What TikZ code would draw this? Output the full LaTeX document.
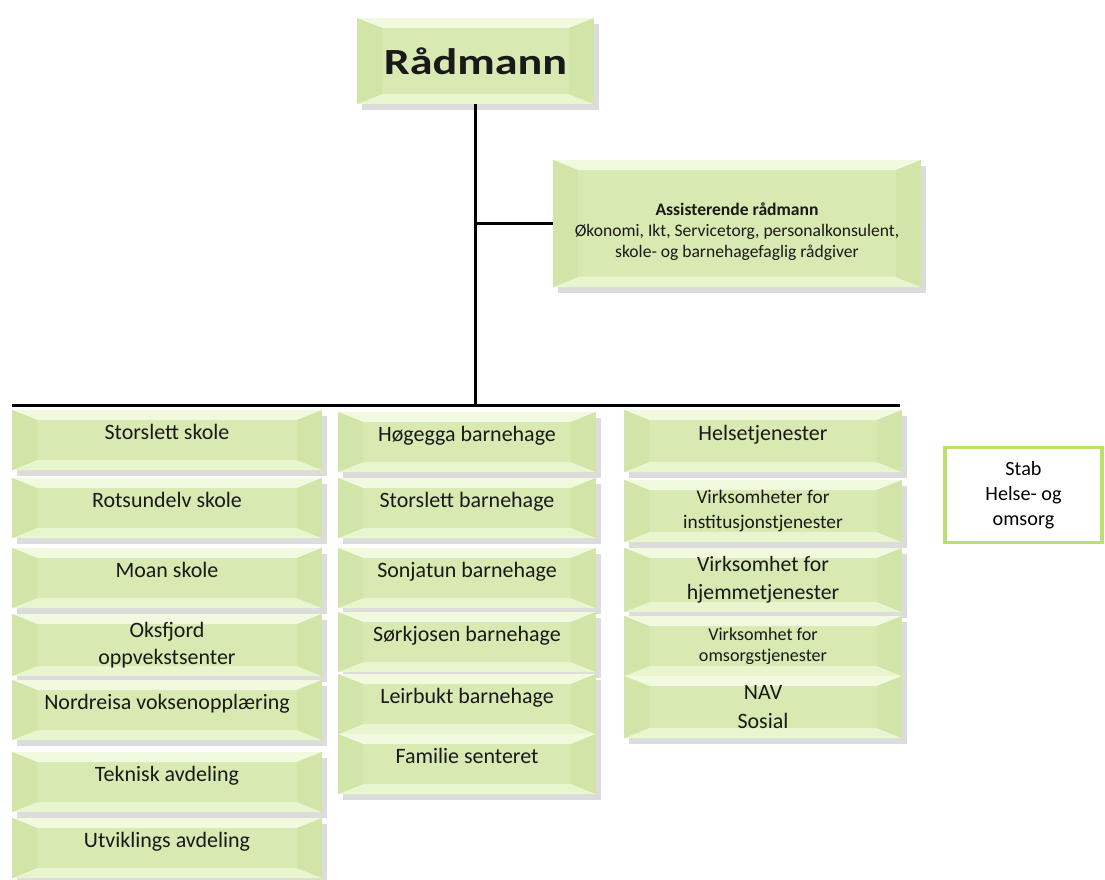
\documentclass[tikz,border=0pt]{standalone}
\usepackage{fontspec}
\setmainfont{Carlito}
\newfontfamily\widefont[FakeStretch=1.25]{Carlito}
\usetikzlibrary{positioning, shadows}

\definecolor{boxmid}{RGB}{216,234,178}
\definecolor{boxtop}{RGB}{241,249,222}
\definecolor{boxbot}{RGB}{233,245,207}
\definecolor{boxside}{RGB}{209,229,168}
\definecolor{stabline}{RGB}{188,224,110}

\begin{document}
\begin{tikzpicture}[
    x=0.02cm, y=-0.02cm,
    bevel/.style={rectangle, fill=boxmid, align=center, inner sep=1pt, text=black!90,
        drop shadow={shadow xshift=0.1cm, shadow yshift=-0.12cm, fill=black!55, opacity=0.25},
        path picture={
            \fill[boxtop] (path picture bounding box.north west) -- (path picture bounding box.north east)
                -- ([shift={(-0.5cm,-0.2cm)}]path picture bounding box.north east)
                -- ([shift={(0.5cm,-0.2cm)}]path picture bounding box.north west) -- cycle;
            \fill[boxbot] (path picture bounding box.south west) -- (path picture bounding box.south east)
                -- ([shift={(-0.5cm,0.2cm)}]path picture bounding box.south east)
                -- ([shift={(0.5cm,0.2cm)}]path picture bounding box.south west) -- cycle;
            \fill[boxside] (path picture bounding box.north west) -- ([shift={(0.5cm,-0.2cm)}]path picture bounding box.north west)
                -- ([shift={(0.5cm,0.2cm)}]path picture bounding box.south west) -- (path picture bounding box.south west) -- cycle;
            \fill[boxside] (path picture bounding box.north east) -- ([shift={(-0.5cm,-0.2cm)}]path picture bounding box.north east)
                -- ([shift={(-0.5cm,0.2cm)}]path picture bounding box.south east) -- (path picture bounding box.south east) -- cycle;
        }},
    lift/.style={text height=8pt, text depth=9pt},
    multi/.style={text height={}, text depth={}},
    col1/.style={bevel, lift, minimum width=6.2cm, minimum height=1.2cm, font=\fontsize{12.5}{15.5}\selectfont},
    col2/.style={bevel, lift, minimum width=5.16cm, minimum height=1.2cm, font=\fontsize{12.5}{15.5}\selectfont},
    col3/.style={bevel, lift, minimum width=5.56cm, minimum height=1.24cm, font=\fontsize{12.5}{16.4}\selectfont},
    stabbox/.style={rectangle, draw=stabline, line width=0.065cm, fill=white, align=center,
        minimum width=3.14cm, minimum height=1.9cm, font=\fontsize{11.5}{14.2}\selectfont},
    conn/.style={line width=0.06cm, black}
]
\useasboundingbox (0,0) rectangle (1105,879);

% Top of the tree
\node[bevel, minimum width=4.74cm, minimum height=1.72cm, font=\widefont\bfseries\fontsize{21}{24}\selectfont] (radmann) at (475.5,61) {Rådmann};
\node[bevel, minimum width=7.36cm, minimum height=2.54cm, font=\fontsize{10}{12.2}\selectfont] (assist) at (737,223.5)
    {\rule{0pt}{16.5pt}\textbf{Assisterende rådmann}\\Økonomi, Ikt, Servicetorg, personalkonsulent,\\skole- og barnehagefaglig rådgiver};

% Connectors
\coordinate (barL) at (12,405);
\coordinate (barR) at (900,405);
\coordinate (hub) at (radmann.south |- barL);
\draw[conn] (radmann.south) -- (hub);
\draw[conn] (radmann.south |- assist.west) -- (assist.west);
\draw[conn] (barL) -- (barR);

% Schools and departments
\node[col1] (storslett) at (167,440) {Storslett skole};
\node[col1] (rotsundelv) at (167,508) {Rotsundelv skole};
\node[col1] (moan) at (167,578) {Moan skole};
\node[col1, multi, minimum height=1.24cm] (oksfjord) at (167,645) {Oksfjord\\oppvekstsenter};
\node[col1] (voksen) at (167,710) {Nordreisa voksenopplæring};
\node[col1] (teknisk) at (167,782) {Teknisk avdeling};
\node[col1] (utvikling) at (167,848) {Utviklings avdeling};

% Kindergartens
\node[col2] (hogegga) at (467,442) {Høgegga barnehage};
\node[col2] (storslettbh) at (467,508) {Storslett barnehage};
\node[col2] (sonjatun) at (467,578) {Sonjatun barnehage};
\node[col2] (sorkjosen) at (467,642) {Sørkjosen barnehage};
\node[col2] (leirbukt) at (467,704) {Leirbukt barnehage};
\node[col2] (familie) at (467,764) {Familie senteret};

% Health and care
\node[col3] (helse) at (763,441) {Helsetjenester};
\node[col3, multi, font=\fontsize{11}{14.2}\selectfont] (institusjon) at (763,511) {Virksomheter for\\institusjonstjenester};
\node[col3, multi, minimum height=1.28cm, font=\fontsize{12.4}{15.9}\selectfont] (hjemme) at (763,580) {Virksomhet for\\hjemmetjenester};
\node[col3, multi, minimum height=1.2cm, font=\fontsize{10.3}{11.9}\selectfont] (omsorg) at (763,646) {Virksomhet for\\omsorgstjenester};
\node[col3, multi] (nav) at (763,707) {NAV\\Sosial};

% Staff box
\node[stabbox] (stab) at (1023.5,495) {Stab\\Helse- og\\omsorg};

\end{tikzpicture}
\end{document}
